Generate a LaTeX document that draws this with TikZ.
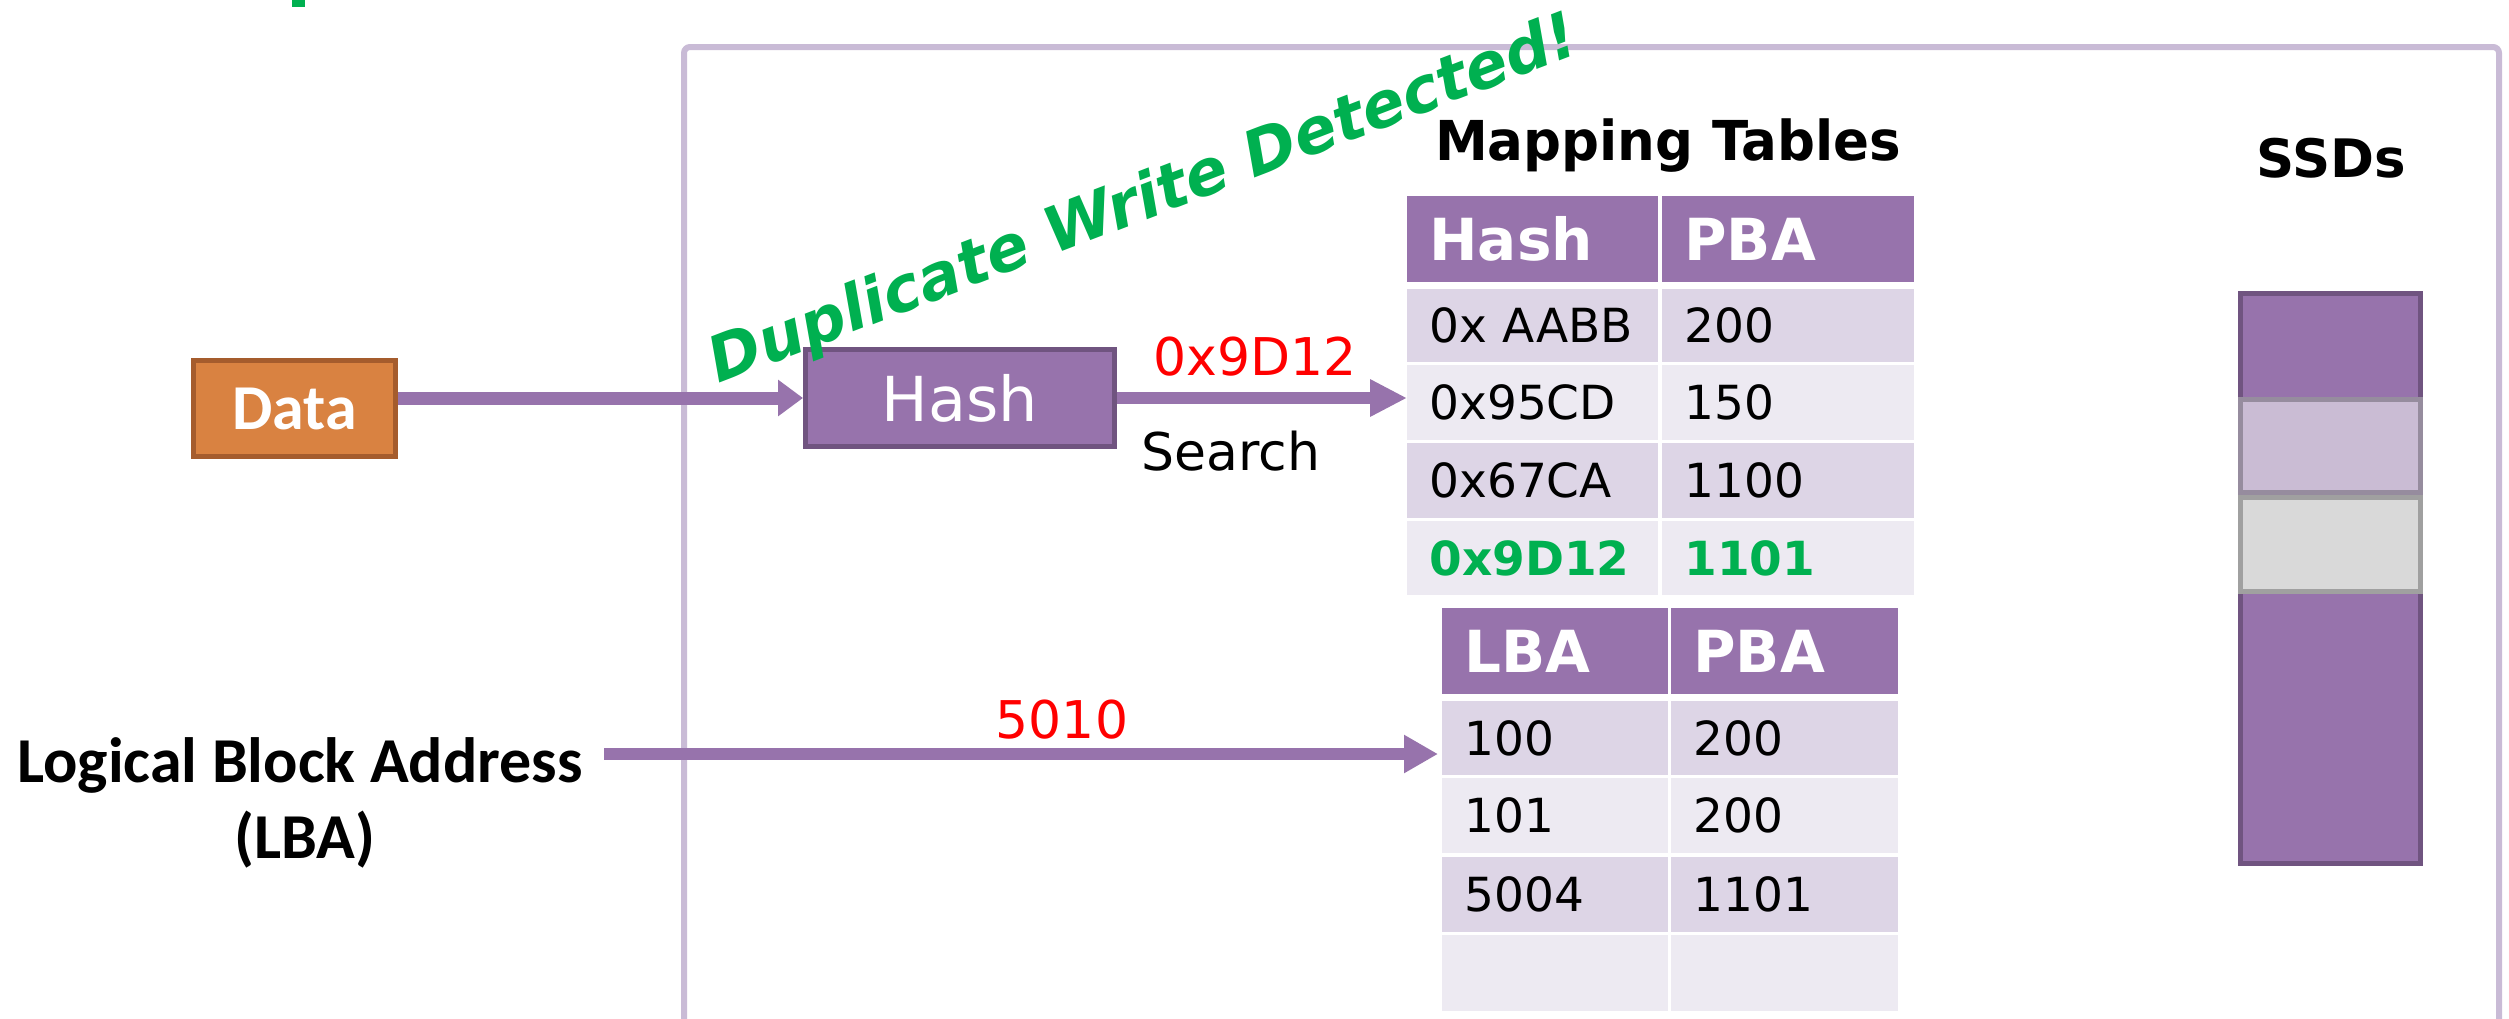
\documentclass[tikz,border=0pt]{standalone}
\usepackage{fontspec}
\setmainfont{DejaVu Sans}
\newfontfamily\calfont{Carlito}
\newfontfamily\titlefont[FakeStretch=0.965]{DejaVu Sans}
\usetikzlibrary{arrows.meta}

\definecolor{plum}{HTML}{9773AC}
\definecolor{plumedge}{HTML}{705480}
\definecolor{rowdark}{HTML}{DDD5E6}
\definecolor{rowlight}{HTML}{EDEAF2}
\definecolor{framecol}{HTML}{C9BBD6}
\definecolor{datafill}{HTML}{D98241}
\definecolor{dataedge}{HTML}{A55C2D}
\definecolor{okgreen}{HTML}{00B050}
\definecolor{bandfill}{HTML}{CABCD4}
\definecolor{bandedge}{HTML}{968C9E}
\definecolor{greyfill}{HTML}{D9D9D9}
\definecolor{greyedge}{HTML}{A0A0A0}

\tikzset{
  % generic table cell, left aligned text
  cell/.style={anchor=north west, inner xsep=11pt, inner ysep=0pt, align=left,
    font=\fontsize{23.5pt}{28pt}\selectfont, text height=17pt, text depth=0pt},
  headcell/.style={cell, fill=plum, text=white,
    font=\fontsize{29pt}{34pt}\selectfont\bfseries, text height=21pt},
  rowA/.style={cell, fill=rowdark},
  rowB/.style={cell, fill=rowlight},
  hashcolA/.style={text width=103.5pt},
  hashcolB/.style={text width=104pt},
  lbacolA/.style={text width=91pt},
  lbacolB/.style={text width=91.5pt},
  hit/.style={text=okgreen, font=\fontsize{23.5pt}{28pt}\selectfont\bfseries},
  % boxes
  procbox/.style={draw=plumedge, fill=plum, line width=2.5pt, text=white,
    minimum width=154.5pt, minimum height=48.5pt, inner sep=0pt,
    font=\fontsize{31pt}{36pt}\selectfont},
  databox/.style={draw=dataedge, fill=datafill, line width=2.5pt, text=white,
    minimum width=101pt, minimum height=48pt, inner sep=0pt,
    font=\calfont\fontsize{32pt}{38pt}\selectfont\bfseries},
  % connectors
  flow/.style={draw=plum, line width=6.5pt},
  lbl/.style={inner sep=0pt, anchor=base, font=\fontsize{26pt}{31pt}\selectfont},
}

\begin{document}
\begin{tikzpicture}[x=0.5pt, y=-0.5pt]
\useasboundingbox (0,0) rectangle (2509,1018);
\clip (0,0) rectangle (2509,1018);
\fill[white] (0,0) rectangle (2509,1018);

% descender of the slide title above
\fill[okgreen] (292,0) rectangle (305,7);

% enclosing frame
\draw[framecol, line width=3pt, rounded corners=3pt] (684,47) rectangle (2499,1120);

% input block and hash unit
\node[databox] (data) at (294.5,408.5) {Data};
\node[procbox] (hash) at (960,398) {Hash};

% hash -> PBA table
\node[headcell, hashcolA, minimum height=43pt] (hh1) at (1407,196) {Hash};
\node[headcell, hashcolB, minimum height=43pt] (hh2) at (1662,196) {PBA};
\node[rowA, hashcolA, minimum height=36.5pt] (ha1) at (1407,289) {0x AABB};
\node[rowA, hashcolB, minimum height=36.5pt] (hb1) at (1662,289) {200};
\node[rowB, hashcolA, minimum height=37.5pt] (ha2) at (1407,365) {0x95CD};
\node[rowB, hashcolB, minimum height=37.5pt] (hb2) at (1662,365) {150};
\node[rowA, hashcolA, minimum height=37.5pt] (ha3) at (1407,443) {0x67CA};
\node[rowA, hashcolB, minimum height=37.5pt] (hb3) at (1662,443) {1100};
\node[rowB, hashcolA, hit, minimum height=37pt] (ha4) at (1407,521) {0x9D12};
\node[rowB, hashcolB, hit, minimum height=37pt] (hb4) at (1662,521) {1101};

% LBA -> PBA table
\node[headcell, lbacolA, minimum height=43pt] (lh1) at (1442,608) {LBA};
\node[headcell, lbacolB, minimum height=43pt] (lh2) at (1671,608) {PBA};
\node[rowA, lbacolA, minimum height=37pt] (la1) at (1442,701) {100};
\node[rowA, lbacolB, minimum height=37pt] (lb1) at (1671,701) {200};
\node[rowB, lbacolA, minimum height=37.5pt] (la2) at (1442,778) {101};
\node[rowB, lbacolB, minimum height=37.5pt] (lb2) at (1671,778) {200};
\node[rowA, lbacolA, minimum height=37.5pt] (la3) at (1442,857) {5004};
\node[rowA, lbacolB, minimum height=37.5pt] (lb3) at (1671,857) {1101};
\node[rowB, lbacolA, minimum height=38pt] (la4) at (1442,935) {};
\node[rowB, lbacolB, minimum height=38pt] (lb4) at (1671,935) {};

% headings
\node[inner sep=0pt, anchor=base, font=\titlefont\fontsize{27.5pt}{32pt}\selectfont\bfseries]
  (maptitle) at (1668,160) {Mapping Tables};
\node[inner sep=0pt, anchor=base, font=\fontsize{26.5pt}{31pt}\selectfont\bfseries]
  (ssdtitle) at (2331,177) {SSDs};

% SSD column with its two highlighted blocks
\node[draw=plumedge, fill=plum, line width=2.5pt, minimum width=90pt, minimum height=285pt, inner sep=0pt]
  (ssd) at (2330.5,578.5) {};
\node[draw=bandedge, fill=bandfill, line width=2.5pt, minimum width=90pt, minimum height=46.5pt, inner sep=0pt]
  (blockA) at (2330.5,446) {};
\node[draw=greyedge, fill=greyfill, line width=2.5pt, minimum width=90pt, minimum height=47pt, inner sep=0pt]
  (blockB) at (2330.5,544.5) {};

% logical block address input
\node[inner sep=0pt, anchor=base, font=\calfont\fontsize{32pt}{38pt}\selectfont\bfseries]
  (lbaname) at (300,782) {Logical Block Address};
\node[inner sep=0pt, anchor=base, font=\calfont\fontsize{32pt}{38pt}\selectfont\bfseries]
  (lbaabbr) at (305,858) {(LBA)};
\coordinate (lbaOut) at (604,754);
\coordinate (lbaIn) at (1438,754);

% connectors
\draw[flow, -{Triangle[length=12.5pt, width=17.5pt]}] (hash.west -| data.east) -- (hash.west);
\draw[flow, line width=6pt, -{Triangle[length=18.5pt, width=17.5pt]}] (hash.east) -- (hash.east -| ha2.west);
\draw[flow, line width=6pt, -{Triangle[length=17pt, width=18pt]}] (lbaOut) -- (lbaIn);

% connector labels
\node[lbl, text=red] (hashval) at (1255,375) {0x9D12};
\node[lbl] (searchlbl) at (1231,470) {Search};
\node[lbl, text=red] (lbaval) at (1062,738) {5010};

% alert
\node[inner sep=0pt, anchor=base west, rotate=21, text=okgreen,
  font=\fontsize{31.5pt}{37pt}\selectfont\bfseries\itshape]
  (alert) at (718,384) {Duplicate Write Detected!};
\end{tikzpicture}
\end{document}
